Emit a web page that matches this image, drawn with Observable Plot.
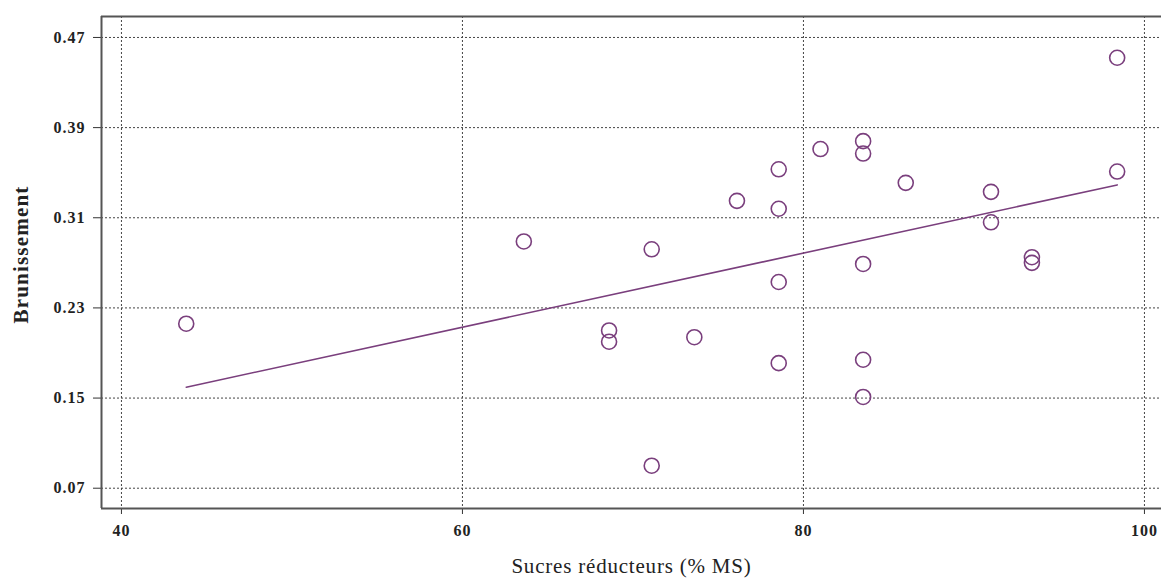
<!DOCTYPE html>
<html>
<head>
<meta charset="utf-8">
<script src="https://cdn.jsdelivr.net/npm/d3@7"></script>
<script src="https://cdn.jsdelivr.net/npm/@observablehq/plot@0.6"></script>
<style>
  html, body { margin: 0; padding: 0; background: #fff; overflow: hidden; }
  #chart svg { display: block; overflow: hidden; }
</style>
</head>
<body>
<div id="chart"></div>
<script>
// Data
const sucres = [43.8, 63.6, 68.6, 68.6, 71.1, 71.1, 73.6, 76.1, 78.55, 78.55, 78.55, 78.55, 81.0, 83.5, 83.5, 83.5, 83.5, 83.5, 86.0, 91.0, 91.0, 93.4, 93.4, 98.4, 98.4];
const brunissement = [0.216, 0.289, 0.210, 0.200, 0.282, 0.090, 0.204, 0.325, 0.353, 0.318, 0.253, 0.181, 0.371, 0.378, 0.367, 0.269, 0.184, 0.151, 0.341, 0.333, 0.306, 0.275, 0.270, 0.351, 0.452];
const xTicks = [40, 60, 80, 100];
const yTicks = [0.07, 0.15, 0.23, 0.31, 0.39, 0.47];
const xDomain = [38.83, 101.0];
const yDomain = [0.052, 0.4886];

const data = sucres.map((x, i) => ({x, y: brunissement[i]}));

const purple = "#7a3f7d";
const gridStyle = {stroke: "#444", strokeOpacity: 1, strokeDasharray: "2,2", strokeWidth: 1};

const chart = Plot.plot({
  width: 1161,
  height: 578,
  marginLeft: 101,
  marginRight: 0,
  marginTop: 16,
  marginBottom: 70,
  style: {fontFamily: "'Liberation Serif', 'Times New Roman', serif", background: "#fff", color: "#222"},
  x: {domain: xDomain},
  y: {domain: yDomain},
  marks: [
    Plot.gridX(xTicks, gridStyle),
    Plot.gridY(yTicks, gridStyle),
    Plot.axisX(xTicks, {
      tickSize: 6, tickPadding: 10, tickFormat: d => String(d), stroke: "#333",
      fontSize: 16, fontWeight: "bold", fill: "#222",
      label: "Sucres réducteurs (% MS)", labelAnchor: "center", labelOffset: 64, labelArrow: "none"
    }),
    Plot.axisY(yTicks, {
      tickSize: 8, tickPadding: 8, tickFormat: d3.format(".2f"), stroke: "#333",
      fontSize: 16, fontWeight: "bold", fill: "#222",
      label: "Brunissement", labelAnchor: "center", labelOffset: 88, labelArrow: "none"
    }),
    // mask the right edge of the plotting area (the reference's frame continues off-picture)
    Plot.ruleX([xDomain[1]], {stroke: "#fff", strokeWidth: 3, y1: yDomain[0], y2: yDomain[1], insetTop: 2, insetBottom: 2}),
    Plot.ruleX([xDomain[0]], {stroke: "#555", strokeWidth: 2}),
    Plot.ruleY(yDomain, {stroke: "#555", strokeWidth: 2}),
    Plot.linearRegressionY(data, {x: "x", y: "y", ci: 0, stroke: purple, strokeWidth: 1.6}),
    Plot.dot(data, {x: "x", y: "y", r: 7.5, stroke: purple, strokeWidth: 1.6, fill: "none"})
  ]
});

document.getElementById("chart").appendChild(chart);

// text sizing: find texts by content
const xTitle = "Sucres réducteurs (% MS)";
const yTitle = "Brunissement";
chart.querySelectorAll("text").forEach(t => {
  const s = t.textContent.trim();
  if (s === xTitle) {
    t.setAttribute("font-size", "21"); t.setAttribute("font-weight", "normal"); t.setAttribute("letter-spacing", "0.8");
  } else if (s === yTitle) {
    t.setAttribute("font-size", "21"); t.setAttribute("font-weight", "bold"); t.setAttribute("letter-spacing", "1.2");
    t.setAttribute("dx", "8");
  } else if (/^\d/.test(s)) {
    t.setAttribute("font-size", "16"); t.setAttribute("font-weight", "bold"); t.setAttribute("letter-spacing", "1");
  }
});
</script>
</body>
</html>
